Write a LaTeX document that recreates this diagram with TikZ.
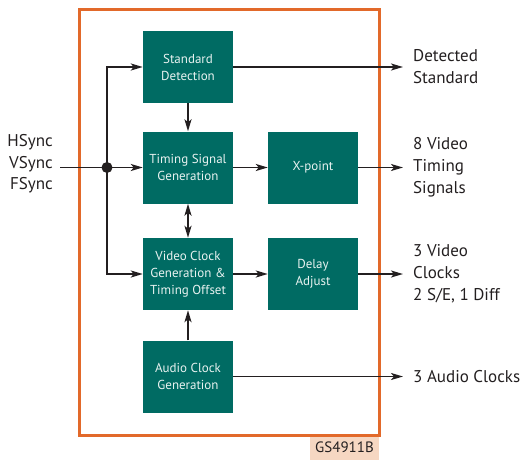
\documentclass[tikz,border=0pt]{standalone}
\usepackage{fontspec}
\setmainfont{PT Sans}
\usetikzlibrary{arrows.meta}
\definecolor{blockteal}{HTML}{006B63}
\definecolor{chiporange}{HTML}{E2692A}
\definecolor{chippeach}{HTML}{F6D7C2}
\definecolor{ink}{HTML}{231F20}
\definecolor{blocktext}{HTML}{E8F2F0}
\tikzset{
 block/.style={fill=blockteal, text=blocktext, minimum width=90pt, minimum height=72pt,
  inner sep=0pt, align=center, font=\fontsize{13}{17}\selectfont},
 outlbl/.style={anchor=west, inner sep=0pt, align=left, text=ink, font=\fontsize{17}{22}\selectfont},
 conn/.style={draw=ink, line width=1.9pt, -{Stealth[length=12pt,width=7pt,inset=3pt]}}
}

\begin{document}
\begin{tikzpicture}[x=1pt,y=-1pt]
\useasboundingbox (0,0) rectangle (524,460);
% chip outline and part number
\node (part) [fill=chippeach, text=ink, minimum width=69pt, minimum height=25pt, inner sep=0pt,
 font=\fontsize{15}{15}\selectfont] at (344.5,447.5) {GS4911B};
\draw[chiporange, line width=3pt] (79,10) rectangle (379,435);
% blocks
\node (sd) [block] at (188,67) {Standard\\Detection};
\node (tsg) [block] at (188,167.5) {Timing Signal\\Generation};
\node (vcg) [block] at (188,274) {Video Clock\\Generation \&\\Timing Offset};
\node (acg) [block] at (188,376.5) {Audio Clock\\Generation};
\node (xp) [block] at (313,167.5) {X-point};
\node (dly) [block] at (313,274) {Delay\\Adjust};
% inputs
\node (sync) [align=right, anchor=east, inner sep=0pt, text=ink, font=\fontsize{17}{21.5}\selectfont] at (53,164) {HSync\\VSync\\FSync};
\coordinate (in) at (60,167.5);
\coordinate (jn) at (107,167.5);
\draw[conn] (in) -- (tsg.west);
\draw[conn] (jn) |- (sd.west);
\draw[conn] (jn) |- (vcg.west);
\fill[ink] (jn) circle (5.5);
% inner connections
\draw[conn] (sd) -- (tsg);
\draw[conn, {Stealth[length=12pt,width=7pt,inset=3pt]}-{Stealth[length=12pt,width=7pt,inset=3pt]}] (tsg) -- (vcg);
\draw[conn] (acg) -- (vcg);
\draw[conn] (tsg) -- (xp);
\draw[conn] (vcg) -- (dly);
% outputs
\node (dsout) [outlbl] at (413,67) {Detected\\Standard};
\node (tsout) [outlbl] at (413,167.5) {8 Video\\Timing\\Signals};
\node (vcout) [outlbl] at (413,273.5) {3 Video\\Clocks\\2 S/E, 1 Diff};
\node (acout) [outlbl] at (413,377) {3 Audio Clocks};
\draw[conn] (sd.east) -- ([xshift=-10pt]dsout.west |- sd.east);
\draw[conn] (xp.east) -- ([xshift=-10pt]tsout.west |- xp.east);
\draw[conn] (dly.east) -- ([xshift=-10pt]vcout.west |- dly.east);
\draw[conn] (acg.east) -- ([xshift=-10pt]acout.west |- acg.east);
\end{tikzpicture}
\end{document}
